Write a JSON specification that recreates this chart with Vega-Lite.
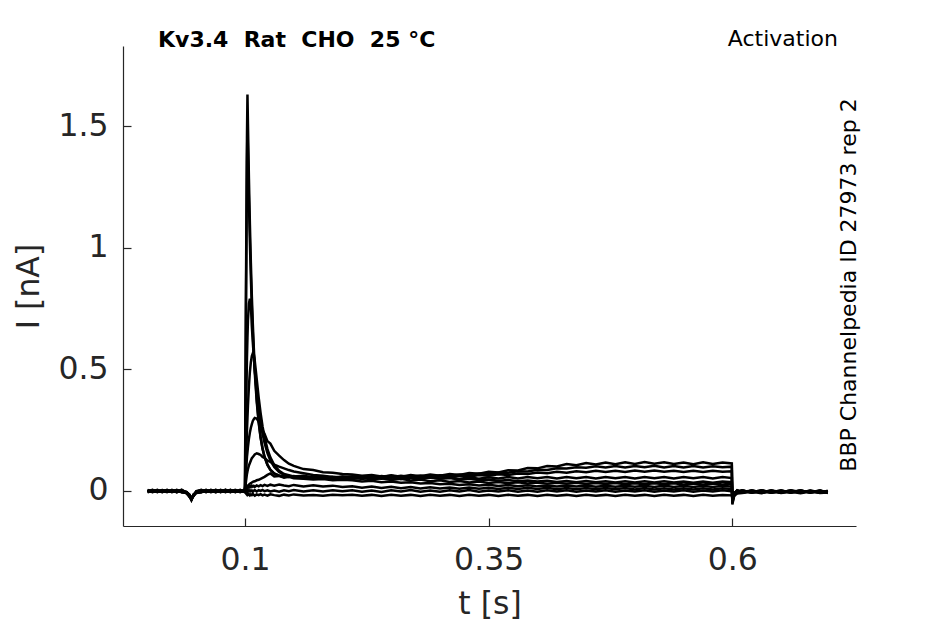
{
"$schema": "https://vega.github.io/schema/vega-lite/v6.json",
"width": 733, "height": 480,
"autosize": "none",
"padding": {"left": 123, "top": 46, "right": 89, "bottom": 98},
"background": "white",
"config": {"view": {"stroke": null}, "font": "DejaVu Sans",
  "axis": {"domainColor": "#262626", "tickColor": "#262626", "labelColor": "#262626", "titleColor": "#262626", "labelFont": "DejaVu Sans", "titleFont": "DejaVu Sans", "labelFontSize": 31.5, "titleFontSize": 31.5, "titleFontWeight": "normal", "grid": false, "tickSize": -8, "domainWidth": 1.2, "tickWidth": 1.2}},
"data": {"values": [
{"t":0,"a":0.002,"b":-0.003,"c":0.004,"d":-0.002,"e":0.001,"f":-0.004,"g":0.003,"h":-0.001,"i":0,"j":-0.005},
{"t":0.005,"a":-0.004,"b":0.003,"c":-0.002,"d":0.005,"e":-0.003,"f":0.002,"g":-0.005,"h":0.004,"i":-0.002,"j":0.001},
{"t":0.01,"a":0.003,"b":-0.005,"c":0.002,"d":-0.003,"e":0.004,"f":-0.002,"g":0.001,"h":-0.004,"i":0.005,"j":-0.003},
{"t":0.015,"a":-0.002,"b":0.004,"c":-0.004,"d":0.001,"e":-0.005,"f":0.003,"g":-0.002,"h":0.002,"i":-0.004,"j":0.004},
{"t":0.02,"a":0.004,"b":-0.002,"c":0.003,"d":-0.005,"e":0.002,"f":-0.003,"g":0.005,"h":-0.003,"i":0.001,"j":-0.002},
{"t":0.025,"a":-0.005,"b":0.001,"c":-0.003,"d":0.003,"e":-0.002,"f":0.005,"g":-0.004,"h":0.001,"i":-0.003,"j":0.003},
{"t":0.03,"a":0.001,"b":-0.004,"c":0.005,"d":-0.001,"e":0.003,"f":-0.005,"g":0.002,"h":-0.005,"i":0.004,"j":-0.004},
{"t":0.035,"a":-0.003,"b":0.005,"c":-0.005,"d":0.004,"e":-0.004,"f":0.001,"g":-0.003,"h":0.003,"i":-0.005,"j":0.002},
{"t":0.04,"a":-0.006,"b":-0.008,"c":-0.004,"d":-0.01,"e":-0.005,"f":-0.007,"g":-0.006,"h":-0.004,"i":-0.008,"j":-0.005},
{"t":0.043,"a":-0.02,"b":-0.025,"c":-0.015,"d":-0.02,"e":-0.018,"f":-0.022,"g":-0.016,"h":-0.019,"i":-0.021,"j":-0.017},
{"t":0.045,"a":-0.038,"b":-0.034,"c":-0.03,"d":-0.036,"e":-0.032,"f":-0.031,"g":-0.034,"h":-0.029,"i":-0.035,"j":-0.032},
{"t":0.047,"a":-0.02,"b":-0.018,"c":-0.022,"d":-0.015,"e":-0.02,"f":-0.019,"g":-0.017,"h":-0.021,"i":-0.016,"j":-0.02},
{"t":0.05,"a":-0.004,"b":-0.008,"c":0,"d":-0.006,"e":-0.003,"f":-0.007,"g":-0.002,"h":-0.005,"i":-0.006,"j":-0.004},
{"t":0.055,"a":0.003,"b":-0.005,"c":0.004,"d":-0.002,"e":0.005,"f":-0.004,"g":0.002,"h":-0.003,"i":0.001,"j":-0.005},
{"t":0.06,"a":-0.004,"b":0.002,"c":-0.003,"d":0.005,"e":-0.002,"f":0.003,"g":-0.005,"h":0.004,"i":-0.004,"j":0.002},
{"t":0.065,"a":0.005,"b":-0.003,"c":0.001,"d":-0.004,"e":0.003,"f":-0.005,"g":0.004,"h":-0.002,"i":0.003,"j":-0.003},
{"t":0.07,"a":-0.002,"b":0.004,"c":-0.005,"d":0.002,"e":-0.004,"f":0.001,"g":-0.003,"h":0.005,"i":-0.005,"j":0.004},
{"t":0.075,"a":0.002,"b":-0.004,"c":0.003,"d":-0.005,"e":0.004,"f":-0.002,"g":0.005,"h":-0.004,"i":0.002,"j":-0.002},
{"t":0.08,"a":-0.005,"b":0.003,"c":-0.002,"d":0.004,"e":-0.003,"f":0.005,"g":-0.004,"h":0.001,"i":-0.003,"j":0.005},
{"t":0.085,"a":0.004,"b":-0.002,"c":0.005,"d":-0.003,"e":0.002,"f":-0.004,"g":0.003,"h":-0.005,"i":0.004,"j":-0.004},
{"t":0.09,"a":-0.003,"b":0.005,"c":-0.004,"d":0.003,"e":-0.005,"f":0.002,"g":-0.002,"h":0.003,"i":-0.004,"j":0.001},
{"t":0.095,"a":0.001,"b":-0.003,"c":0.002,"d":-0.004,"e":0.003,"f":-0.005,"g":0.004,"h":-0.002,"i":0.005,"j":-0.003},
{"t":0.0995,"a":-0.002,"b":0.002,"c":-0.003,"d":0.001,"e":-0.004,"f":0.003,"g":-0.002,"h":0.004,"i":-0.003,"j":0.002},
{"t":0.1,"a":0.02,"b":0.015,"c":0.01,"d":0.005,"e":0.004,"f":0.003,"g":0.002,"h":0.002,"i":-0.002,"j":-0.004},
{"t":0.101,"a":0.85,"b":0.75,"c":0.3,"d":0.12,"e":0.08,"f":0.04,"g":0.01,"h":0.008,"i":0.002,"j":-0.01},
{"t":0.102,"a":1.45,"b":1.35,"c":0.55,"d":0.25,"e":0.14,"f":0.07,"g":0.018,"h":0.012,"i":-0.003,"j":-0.015},
{"t":0.1025,"a":1.63,"b":1.5,"c":0.63,"d":0.3,"e":0.16,"f":0.08,"g":0.02,"h":0.015,"i":0.001,"j":-0.012},
{"t":0.103,"a":1.51,"b":1.39,"c":0.7,"d":0.35,"e":0.18,"f":0.09,"g":0.022,"h":0.018,"i":0.004,"j":-0.016},
{"t":0.104,"a":1.285,"b":1.19,"c":0.77,"d":0.43,"e":0.215,"f":0.105,"g":0.026,"h":0.014,"i":-0.002,"j":-0.013},
{"t":0.105,"a":1.096,"b":1.02,"c":0.79,"d":0.49,"e":0.24,"f":0.115,"g":0.03,"h":0.02,"i":0.003,"j":-0.018},
{"t":0.106,"a":0.937,"b":0.877,"c":0.765,"d":0.53,"e":0.26,"f":0.125,"g":0.032,"h":0.016,"i":-0.001,"j":-0.014},
{"t":0.107,"a":0.8,"b":0.754,"c":0.676,"d":0.555,"e":0.275,"f":0.135,"g":0.035,"h":0.022,"i":0.002,"j":-0.017},
{"t":0.108,"a":0.687,"b":0.65,"c":0.611,"d":0.566,"e":0.288,"f":0.14,"g":0.037,"h":0.018,"i":-0.003,"j":-0.012},
{"t":0.109,"a":0.59,"b":0.562,"c":0.552,"d":0.562,"e":0.295,"f":0.145,"g":0.039,"h":0.021,"i":0.001,"j":-0.016},
{"t":0.11,"a":0.508,"b":0.486,"c":0.499,"d":0.535,"e":0.3,"f":0.15,"g":0.04,"h":0.017,"i":0.004,"j":-0.019},
{"t":0.112,"a":0.379,"b":0.367,"c":0.409,"d":0.46,"e":0.298,"f":0.155,"g":0.044,"h":0.023,"i":-0.002,"j":-0.014},
{"t":0.114,"a":0.287,"b":0.281,"c":0.338,"d":0.385,"e":0.285,"f":0.152,"g":0.046,"h":0.019,"i":0.003,"j":-0.017},
{"t":0.116,"a":0.222,"b":0.219,"c":0.28,"d":0.32,"e":0.27,"f":0.148,"g":0.05,"h":0.024,"i":0,"j":-0.013},
{"t":0.118,"a":0.174,"b":0.174,"c":0.235,"d":0.265,"e":0.25,"f":0.14,"g":0.054,"h":0.02,"i":0.004,"j":-0.018},
{"t":0.12,"a":0.14,"b":0.141,"c":0.198,"d":0.222,"e":0.235,"f":0.136,"g":0.058,"h":0.025,"i":-0.001,"j":-0.015},
{"t":0.123,"a":0.107,"b":0.108,"c":0.156,"d":0.172,"e":0.205,"f":0.125,"g":0.066,"h":0.021,"i":0.003,"j":-0.019},
{"t":0.126,"a":0.086,"b":0.088,"c":0.126,"d":0.138,"e":0.195,"f":0.12,"g":0.072,"h":0.026,"i":-0.002,"j":-0.014},
{"t":0.13,"a":0.071,"b":0.072,"c":0.099,"d":0.107,"e":0.165,"f":0.108,"g":0.06,"h":0.022,"i":0.002,"j":-0.017},
{"t":0.135,"a":0.064,"b":0.062,"c":0.078,"d":0.083,"e":0.145,"f":0.1,"g":0.062,"h":0.027,"i":-0.003,"j":-0.02},
{"t":0.14,"a":0.06,"b":0.058,"c":0.066,"d":0.07,"e":0.127,"f":0.093,"g":0.055,"h":0.023,"i":0.003,"j":-0.015},
{"t":0.145,"a":0.058,"b":0.062,"c":0.059,"d":0.065,"e":0.112,"f":0.086,"g":0.058,"h":0.02,"i":-0.001,"j":-0.018},
{"t":0.15,"a":0.062,"b":0.056,"c":0.057,"d":0.06,"e":0.103,"f":0.08,"g":0.052,"h":0.025,"i":0.004,"j":-0.014},
{"t":0.16,"a":0.055,"b":0.06,"c":0.052,"d":0.063,"e":0.09,"f":0.073,"g":0.05,"h":0.019,"i":-0.002,"j":-0.019},
{"t":0.17,"a":0.06,"b":0.054,"c":0.058,"d":0.056,"e":0.086,"f":0.066,"g":0.047,"h":0.024,"i":0.003,"j":-0.016},
{"t":0.18,"a":0.053,"b":0.059,"c":0.05,"d":0.061,"e":0.077,"f":0.063,"g":0.049,"h":0.018,"i":-0.002,"j":-0.02},
{"t":0.19,"a":0.059,"b":0.053,"c":0.056,"d":0.054,"e":0.075,"f":0.058,"g":0.044,"h":0.022,"i":0.003,"j":-0.015},
{"t":0.2,"a":0.055,"b":0.058,"c":0.051,"d":0.06,"e":0.07,"f":0.055,"g":0.046,"h":0.016,"i":-0.001,"j":-0.018},
{"t":0.21,"a":0.061,"b":0.054,"c":0.055,"d":0.056,"e":0.068,"f":0.049,"g":0.044,"h":0.019,"i":0.003,"j":-0.015},
{"t":0.22,"a":0.056,"b":0.059,"c":0.049,"d":0.061,"e":0.063,"f":0.054,"g":0.039,"h":0.013,"i":-0.003,"j":-0.02},
{"t":0.23,"a":0.063,"b":0.053,"c":0.055,"d":0.055,"e":0.066,"f":0.047,"g":0.042,"h":0.018,"i":0.002,"j":-0.016},
{"t":0.24,"a":0.057,"b":0.06,"c":0.05,"d":0.062,"e":0.06,"f":0.052,"g":0.036,"h":0.012,"i":-0.004,"j":-0.021},
{"t":0.25,"a":0.065,"b":0.054,"c":0.056,"d":0.057,"e":0.063,"f":0.045,"g":0.039,"h":0.017,"i":0.003,"j":-0.015},
{"t":0.26,"a":0.059,"b":0.061,"c":0.049,"d":0.063,"e":0.057,"f":0.05,"g":0.034,"h":0.011,"i":-0.002,"j":-0.02},
{"t":0.27,"a":0.066,"b":0.055,"c":0.055,"d":0.058,"e":0.06,"f":0.043,"g":0.036,"h":0.016,"i":0.004,"j":-0.016},
{"t":0.28,"a":0.061,"b":0.06,"c":0.05,"d":0.064,"e":0.054,"f":0.047,"g":0.031,"h":0.01,"i":-0.003,"j":-0.021},
{"t":0.29,"a":0.068,"b":0.054,"c":0.056,"d":0.059,"e":0.056,"f":0.04,"g":0.033,"h":0.015,"i":0.002,"j":-0.015},
{"t":0.3,"a":0.063,"b":0.061,"c":0.05,"d":0.065,"e":0.051,"f":0.044,"g":0.028,"h":0.01,"i":-0.003,"j":-0.02},
{"t":0.31,"a":0.07,"b":0.057,"c":0.055,"d":0.062,"e":0.053,"f":0.037,"g":0.03,"h":0.014,"i":0.003,"j":-0.016},
{"t":0.32,"a":0.066,"b":0.063,"c":0.049,"d":0.068,"e":0.047,"f":0.041,"g":0.025,"h":0.009,"i":-0.002,"j":-0.021},
{"t":0.33,"a":0.074,"b":0.059,"c":0.056,"d":0.066,"e":0.05,"f":0.035,"g":0.028,"h":0.014,"i":0.004,"j":-0.015},
{"t":0.34,"a":0.071,"b":0.066,"c":0.05,"d":0.072,"e":0.045,"f":0.039,"g":0.023,"h":0.009,"i":-0.003,"j":-0.02},
{"t":0.35,"a":0.079,"b":0.063,"c":0.056,"d":0.07,"e":0.047,"f":0.033,"g":0.026,"h":0.013,"i":0.002,"j":-0.016},
{"t":0.36,"a":0.076,"b":0.069,"c":0.051,"d":0.076,"e":0.042,"f":0.037,"g":0.021,"h":0.008,"i":-0.002,"j":-0.021},
{"t":0.37,"a":0.085,"b":0.066,"c":0.057,"d":0.075,"e":0.045,"f":0.032,"g":0.025,"h":0.013,"i":0.003,"j":-0.015},
{"t":0.38,"a":0.084,"b":0.072,"c":0.051,"d":0.081,"e":0.04,"f":0.036,"g":0.02,"h":0.008,"i":-0.003,"j":-0.02},
{"t":0.39,"a":0.094,"b":0.07,"c":0.057,"d":0.08,"e":0.043,"f":0.031,"g":0.024,"h":0.013,"i":0.002,"j":-0.016},
{"t":0.4,"a":0.093,"b":0.076,"c":0.052,"d":0.087,"e":0.039,"f":0.035,"g":0.019,"h":0.008,"i":-0.003,"j":-0.021},
{"t":0.41,"a":0.103,"b":0.073,"c":0.057,"d":0.086,"e":0.042,"f":0.03,"g":0.023,"h":0.013,"i":0.003,"j":-0.015},
{"t":0.42,"a":0.101,"b":0.079,"c":0.051,"d":0.093,"e":0.037,"f":0.034,"g":0.018,"h":0.007,"i":-0.002,"j":-0.02},
{"t":0.43,"a":0.111,"b":0.075,"c":0.057,"d":0.092,"e":0.041,"f":0.03,"g":0.023,"h":0.012,"i":0.003,"j":-0.016},
{"t":0.44,"a":0.106,"b":0.081,"c":0.052,"d":0.098,"e":0.036,"f":0.034,"g":0.018,"h":0.007,"i":-0.003,"j":-0.021},
{"t":0.45,"a":0.115,"b":0.077,"c":0.057,"d":0.096,"e":0.041,"f":0.029,"g":0.023,"h":0.012,"i":0.002,"j":-0.015},
{"t":0.46,"a":0.109,"b":0.083,"c":0.051,"d":0.102,"e":0.036,"f":0.033,"g":0.017,"h":0.007,"i":-0.002,"j":-0.02},
{"t":0.47,"a":0.117,"b":0.078,"c":0.057,"d":0.097,"e":0.04,"f":0.029,"g":0.022,"h":0.012,"i":0.003,"j":-0.016},
{"t":0.48,"a":0.11,"b":0.083,"c":0.052,"d":0.103,"e":0.035,"f":0.033,"g":0.017,"h":0.007,"i":-0.003,"j":-0.021},
{"t":0.49,"a":0.118,"b":0.078,"c":0.057,"d":0.097,"e":0.04,"f":0.028,"g":0.022,"h":0.012,"i":0.002,"j":-0.015},
{"t":0.5,"a":0.111,"b":0.084,"c":0.051,"d":0.103,"e":0.035,"f":0.032,"g":0.017,"h":0.006,"i":-0.002,"j":-0.02},
{"t":0.51,"a":0.119,"b":0.079,"c":0.057,"d":0.098,"e":0.04,"f":0.028,"g":0.022,"h":0.012,"i":0.003,"j":-0.016},
{"t":0.52,"a":0.112,"b":0.084,"c":0.052,"d":0.104,"e":0.035,"f":0.032,"g":0.016,"h":0.006,"i":-0.003,"j":-0.021},
{"t":0.53,"a":0.118,"b":0.079,"c":0.057,"d":0.097,"e":0.04,"f":0.028,"g":0.022,"h":0.011,"i":0.002,"j":-0.015},
{"t":0.54,"a":0.111,"b":0.083,"c":0.051,"d":0.103,"e":0.035,"f":0.032,"g":0.016,"h":0.006,"i":-0.002,"j":-0.02},
{"t":0.55,"a":0.117,"b":0.078,"c":0.057,"d":0.097,"e":0.039,"f":0.027,"g":0.021,"h":0.011,"i":0.003,"j":-0.016},
{"t":0.56,"a":0.11,"b":0.083,"c":0.052,"d":0.103,"e":0.034,"f":0.031,"g":0.016,"h":0.006,"i":-0.003,"j":-0.021},
{"t":0.57,"a":0.118,"b":0.078,"c":0.057,"d":0.097,"e":0.039,"f":0.027,"g":0.021,"h":0.011,"i":0.002,"j":-0.015},
{"t":0.58,"a":0.111,"b":0.083,"c":0.051,"d":0.102,"e":0.034,"f":0.031,"g":0.016,"h":0.006,"i":-0.002,"j":-0.02},
{"t":0.59,"a":0.117,"b":0.079,"c":0.057,"d":0.098,"e":0.039,"f":0.027,"g":0.021,"h":0.011,"i":0.003,"j":-0.016},
{"t":0.5995,"a":0.113,"b":0.081,"c":0.053,"d":0.1,"e":0.036,"f":0.03,"g":0.018,"h":0.008,"i":-0.001,"j":-0.018},
{"t":0.6,"a":-0.05,"b":-0.045,"c":-0.04,"d":-0.055,"e":-0.035,"f":-0.03,"g":-0.03,"h":-0.025,"i":-0.03,"j":-0.035},
{"t":0.602,"a":-0.015,"b":-0.01,"c":-0.012,"d":-0.018,"e":-0.008,"f":-0.01,"g":-0.006,"h":-0.012,"i":-0.014,"j":-0.02},
{"t":0.605,"a":-0.003,"b":0.002,"c":-0.006,"d":0,"e":-0.004,"f":0.003,"g":-0.008,"h":0.001,"i":-0.005,"j":-0.01},
{"t":0.61,"a":0.002,"b":-0.005,"c":0.001,"d":-0.007,"e":0.003,"f":-0.004,"g":0,"h":-0.006,"i":0.002,"j":-0.008},
{"t":0.62,"a":-0.006,"b":0.001,"c":-0.004,"d":0.002,"e":-0.007,"f":0.002,"g":-0.005,"h":0.001,"i":-0.006,"j":-0.003},
{"t":0.63,"a":0.001,"b":-0.006,"c":0.002,"d":-0.005,"e":0,"f":-0.007,"g":0.003,"h":-0.004,"i":0.001,"j":-0.009},
{"t":0.64,"a":-0.005,"b":0.002,"c":-0.007,"d":0.001,"e":-0.004,"f":0.001,"g":-0.006,"h":0.002,"i":-0.007,"j":-0.002},
{"t":0.65,"a":0.002,"b":-0.004,"c":0,"d":-0.006,"e":0.002,"f":-0.005,"g":0.001,"h":-0.007,"i":0,"j":-0.008},
{"t":0.66,"a":-0.007,"b":0.001,"c":-0.005,"d":0.003,"e":-0.006,"f":0.002,"g":-0.004,"h":0,"i":-0.005,"j":-0.003},
{"t":0.67,"a":0,"b":-0.007,"c":0.002,"d":-0.004,"e":0.001,"f":-0.006,"g":0.002,"h":-0.005,"i":0.002,"j":-0.009},
{"t":0.68,"a":-0.004,"b":0.002,"c":-0.006,"d":0,"e":-0.005,"f":0,"g":-0.007,"h":0.001,"i":-0.006,"j":-0.002},
{"t":0.69,"a":0.001,"b":-0.005,"c":0.001,"d":-0.007,"e":0.002,"f":-0.004,"g":0,"h":-0.006,"i":0.001,"j":-0.008},
{"t":0.698,"a":-0.006,"b":-0.002,"c":-0.004,"d":0.001,"e":-0.008,"f":-0.003,"g":-0.005,"h":-0.002,"i":-0.004,"j":-0.006}
]},
"layer": [
 {"transform": [{"fold": ["a","b","c","d","e","f","g","h","i","j"], "as": ["trace","I"]}],
  "mark": {"type": "line", "color": "black", "strokeWidth": 2.5, "clip": true},
  "encoding": {
   "x": {"field": "t", "type": "quantitative", "scale": {"domain": [-0.0252, 0.7269], "nice": false, "zero": false},
     "axis": {"values": [0.1, 0.35, 0.6], "format": "~g", "title": "t [s]", "labelPadding": 26, "titlePadding": 13}},
   "y": {"field": "I", "type": "quantitative", "scale": {"domain": [-0.1439, 1.829], "nice": false, "zero": false},
     "axis": {"values": [0, 0.5, 1, 1.5], "format": "~g", "title": "I [nA]", "labelPadding": 23, "titlePadding": 12}},
   "detail": {"field": "trace", "type": "nominal"}
  }
 },
 {"data": {"values": [{"label": "Kv3.4\u00a0\u00a0Rat\u00a0\u00a0CHO\u00a0\u00a025\u00a0°C"}]},
  "mark": {"type": "text", "align": "left", "baseline": "alphabetic", "fontSize": 22, "fontWeight": "bold", "font": "DejaVu Sans", "color": "black", "dy": 1},
  "encoding": {"text": {"field": "label"}, "x": {"datum": 0.0107, "type": "quantitative"}, "y": {"datum": 1.829, "type": "quantitative"}}
 },
 {"data": {"values": [{"label": "Activation"}]},
  "mark": {"type": "text", "align": "right", "baseline": "alphabetic", "fontSize": 22, "font": "DejaVu Sans", "color": "black"},
  "encoding": {"text": {"field": "label"}, "x": {"datum": 0.7084, "type": "quantitative"}, "y": {"datum": 1.829, "type": "quantitative"}}
 },
 {"data": {"values": [{"label": "BBP Channelpedia ID 27973 rep 2"}]},
  "mark": {"type": "text", "align": "center", "baseline": "alphabetic", "angle": 270, "fontSize": 22, "font": "DejaVu Sans", "color": "black", "dx": 1},
  "encoding": {"text": {"field": "label"}, "x": {"datum": 0.7269, "type": "quantitative"}, "y": {"datum": 0.8426, "type": "quantitative"}}
 }
]
}
